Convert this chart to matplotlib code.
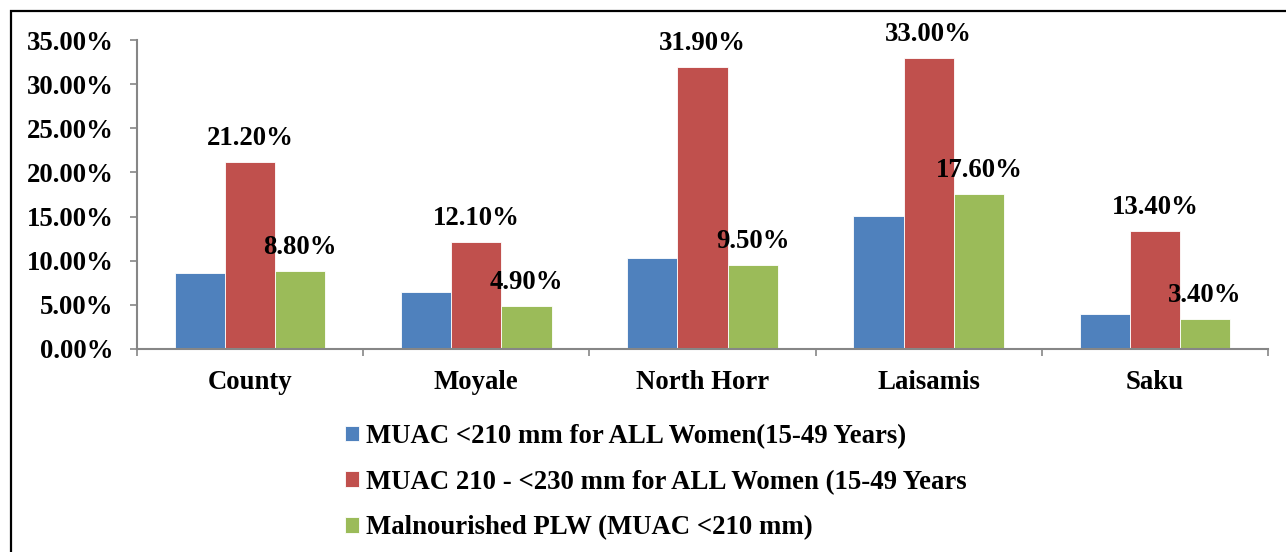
import matplotlib
matplotlib.use("Agg")
import matplotlib.pyplot as plt
import numpy as np
from matplotlib.patches import Rectangle
from matplotlib.ticker import FixedLocator, FuncFormatter

# ── data ──
categories = ["County", "Moyale", "North Horr", "Laisamis", "Saku"]
series_names = [
    "MUAC <210 mm for ALL Women(15-49 Years)",
    "MUAC 210 - <230 mm for ALL Women (15-49 Years",
    "Malnourished PLW (MUAC <210 mm)",
]
muac_lt210 = [0.086, 0.064, 0.103, 0.151, 0.040]
muac_210_230 = [0.212, 0.121, 0.319, 0.330, 0.134]
plw_lt210 = [0.088, 0.049, 0.095, 0.176, 0.034]
yticks = [0.0, 0.05, 0.10, 0.15, 0.20, 0.25, 0.30, 0.35]

colors = ["#4F81BD", "#C0504D", "#9BBB59"]
label_series = [False, True, True]  # blue bars carry no value labels

plt.rcParams["font.family"] = ["Liberation Serif", "DejaVu Serif"]
plt.rcParams["font.weight"] = "bold"
FS = 19.3

W, H = 1286, 552
fig = plt.figure(figsize=(W / 100, H / 100), dpi=100)
ax = fig.add_axes([137 / W, 1 - 349 / H, (1268 - 137) / W, (349 - 40) / H])

x = np.arange(len(categories))
bw = 0.222
all_series = [muac_lt210, muac_210_230, plw_lt210]
for k, (vals, col, name, lab) in enumerate(zip(all_series, colors, series_names, label_series)):
    bars = ax.bar(x + (k - 1) * bw, vals, width=bw, color=col, edgecolor="white",
                  linewidth=0.6, label=name, zorder=2)
    if lab:
        for b, v in zip(bars, vals):
            ax.annotate(f"{v * 100:.2f}%", (b.get_x() + b.get_width() / 2, v),
                        xytext=(0, 8), textcoords="offset points",
                        ha="center", va="bottom", fontsize=FS, fontweight="bold",
                        annotation_clip=False)

ax.set_xlim(-0.5, len(categories) - 0.5)
ax.set_ylim(0, 0.35)
ax.yaxis.set_major_locator(FixedLocator(yticks))
ax.yaxis.set_major_formatter(FuncFormatter(lambda v, p: f"{v * 100:.2f}%"))
ax.set_xticks(x)
ax.set_xticklabels(categories)
ax.set_xticks(np.arange(len(categories) + 1) - 0.5, minor=True)

for s in ["top", "right"]:
    ax.spines[s].set_visible(False)
for s in ["left", "bottom"]:
    ax.spines[s].set_color("#868686")
    ax.spines[s].set_linewidth(1.5)

ax.tick_params(axis="y", length=5, width=1.2, color="#868686", pad=12, labelsize=FS)
ax.tick_params(axis="x", which="major", length=0, pad=15, labelsize=FS)
ax.tick_params(axis="x", which="minor", length=5, width=1.2, color="#868686")
for t in ax.get_xticklabels() + ax.get_yticklabels():
    t.set_fontweight("bold")

leg = ax.legend(loc="upper left", bbox_to_anchor=(345 / W, 1 - 424 / H),
                bbox_transform=fig.transFigure, frameon=False,
                prop={"weight": "bold", "size": FS}, handlelength=0.52,
                handleheight=0.52, handletextpad=0.25, labelspacing=0.77,
                borderpad=0, borderaxespad=0)

# outer frame (right and bottom edges fall off the picture)
fig.patches.append(Rectangle((11 / W, -0.05), 1.2, 1.05 - 11 / H, fill=False,
                             edgecolor="black", linewidth=1.6,
                             transform=fig.transFigure, figure=fig))

fig.savefig("out.png", dpi=100)
